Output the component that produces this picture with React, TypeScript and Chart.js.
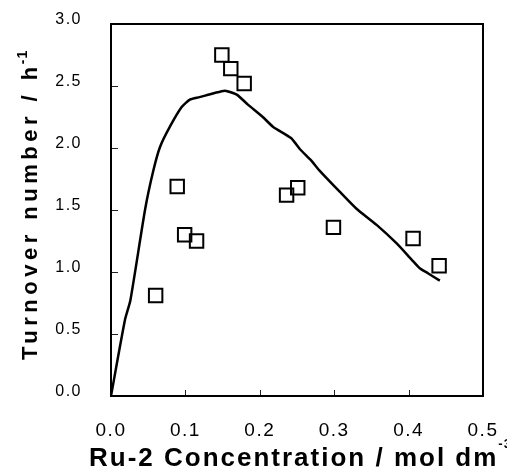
import React, { useEffect, useRef } from "react";
import { Chart, registerables } from "chart.js";

Chart.register(...registerables);

// Measured turnover numbers (squares)
const concentrations = [0.060, 0.089, 0.099, 0.115, 0.149, 0.161, 0.179, 0.236, 0.251, 0.299, 0.406, 0.441];
const turnovers = [0.81, 1.69, 1.30, 1.25, 2.75, 2.64, 2.52, 1.62, 1.68, 1.36, 1.27, 1.05];

// Calculated curve
const curveX = [0, 0.019, 0.026, 0.046, 0.057, 0.066, 0.079, 0.095, 0.106, 0.119, 0.137, 0.151, 0.155, 0.169, 0.184, 0.204, 0.218, 0.242, 0.254, 0.269, 0.280, 0.307, 0.330, 0.357, 0.384, 0.404, 0.415, 0.426, 0.442];
const curveY = [0, 0.62, 0.77, 1.51, 1.82, 2.01, 2.17, 2.33, 2.39, 2.41, 2.44, 2.46, 2.46, 2.43, 2.35, 2.25, 2.17, 2.08, 1.99, 1.90, 1.82, 1.65, 1.51, 1.38, 1.23, 1.10, 1.03, 0.99, 0.93];

const xTickValues = [0, 0.1, 0.2, 0.3, 0.4, 0.5];
const yTickValues = [0, 0.5, 1.0, 1.5, 2.0, 2.5, 3.0];

const xTitle = "Ru-2 Concentration / mol dm";
const xTitleSup = "-3";
const yTitle = "Turnover number / h";
const yTitleSup = "-1";

const FONT = '"Liberation Sans", Arial, sans-serif';

const framePlugin = {
  id: "framePlugin",
  afterDraw(chart: any) {
    const { ctx, chartArea } = chart;
    const xs = chart.scales.x;
    const ys = chart.scales.y;
    ctx.save();
    // inward ticks
    ctx.strokeStyle = "#222";
    ctx.lineWidth = 1;
    xTickValues.forEach((v) => {
      const px = Math.round(xs.getPixelForValue(v)) + 0.5;
      ctx.beginPath();
      ctx.moveTo(px, chartArea.bottom);
      ctx.lineTo(px, chartArea.bottom - 6);
      ctx.stroke();
    });
    yTickValues.forEach((v) => {
      const py = Math.round(ys.getPixelForValue(v)) + 0.5;
      ctx.beginPath();
      ctx.moveTo(chartArea.left, py);
      ctx.lineTo(chartArea.left + 7, py);
      ctx.stroke();
    });
    // frame
    ctx.strokeStyle = "#000";
    ctx.lineWidth = 2;
    ctx.strokeRect(chartArea.left, chartArea.top, chartArea.right - chartArea.left, chartArea.bottom - chartArea.top);

    // x title
    ctx.fillStyle = "#000";
    ctx.textAlign = "left";
    ctx.textBaseline = "alphabetic";
    ctx.font = `bold 26px ${FONT}`;
    (ctx as any).letterSpacing = "2px";
    ctx.fillText(xTitle, 89, 466);
    const wx = ctx.measureText(xTitle).width;
    ctx.font = `bold 13px ${FONT}`;
    (ctx as any).letterSpacing = "1px";
    ctx.fillText(xTitleSup, 89 + wx, 448);

    // y title
    ctx.save();
    ctx.translate(37, 360);
    ctx.rotate(-Math.PI / 2);
    ctx.font = `bold 22px ${FONT}`;
    (ctx as any).letterSpacing = "4.5px";
    ctx.fillText(yTitle, 0, 0);
    const wy = ctx.measureText(yTitle).width;
    ctx.font = `bold 14px ${FONT}`;
    (ctx as any).letterSpacing = "1px";
    ctx.fillText(yTitleSup, wy - 2, -10);
    ctx.restore();
    (ctx as any).letterSpacing = "0px";
    ctx.restore();
  },
};

const spacingPlugin = {
  id: "spacingPlugin",
  beforeDraw(chart: any) {
    (chart.ctx as any).letterSpacing = "1.5px";
  },
  beforeDatasetsDraw(chart: any) {
    (chart.ctx as any).letterSpacing = "0px";
  },
};

const zeroPad = (s: any) => {
  s.paddingLeft = 0;
  s.paddingRight = 0;
  s.paddingTop = 0;
  s.paddingBottom = 0;
};

export default function App() {
  const ref = useRef<HTMLCanvasElement | null>(null);
  useEffect(() => {
    if (!ref.current) return;
    const curve = curveX.map((x, i) => ({ x, y: curveY[i] }));
    const pts = concentrations.map((x, i) => ({ x, y: turnovers[i] }));
    const chart = new Chart(ref.current, {
      type: "scatter",
      data: {
        datasets: [
          {
            type: "line",
            label: "calc",
            data: curve,
            borderColor: "#000",
            borderWidth: 2.5,
            pointRadius: 0,
            tension: 0.2,
            fill: false,
          } as any,
          {
            label: "obs",
            data: pts,
            pointStyle: "rect",
            pointRadius: 9.5,
            pointBorderWidth: 2,
            borderColor: "#000",
            backgroundColor: "rgba(0,0,0,0)",
            showLine: false,
          } as any,
        ],
      },
      options: {
        responsive: false,
        animation: false,
        devicePixelRatio: 1,
        layout: { padding: { top: 24, right: 24, left: 0, bottom: 0 } },
        plugins: { legend: { display: false }, tooltip: { enabled: false } },
        scales: {
          x: {
            type: "linear",
            min: 0,
            max: 0.5,
            afterBuildTicks: (s: any) => {
              s.ticks = xTickValues.map((v) => ({ value: v }));
            },
            ticks: {
              callback: (v: any) => Number(v).toFixed(1),
              font: { family: FONT, size: 19 },
              color: "#000",
              padding: 15,
              maxRotation: 0,
            },
            grid: { display: false },
            border: { display: false },
            afterFit: (s: any) => {
              s.height = 77;
              zeroPad(s);
            },
          },
          y: {
            type: "linear",
            min: 0,
            max: 3,
            afterBuildTicks: (s: any) => {
              s.ticks = yTickValues.map((v) => ({ value: v }));
            },
            ticks: {
              callback: (v: any) => Number(v).toFixed(1),
              font: { family: FONT, size: 16 },
              color: "#000",
              padding: 21,
              labelOffset: -4,
            },
            grid: { display: false },
            border: { display: false },
            afterFit: (s: any) => {
              s.width = 111;
              zeroPad(s);
            },
          },
        },
      } as any,
      plugins: [spacingPlugin, framePlugin],
    });
    return () => chart.destroy();
  }, []);
  return (
    <div style={{ position: "absolute", left: 0, top: 0, width: 507, height: 473, background: "#fff" }}>
      <canvas ref={ref} width={507} height={473} style={{ width: 507, height: 473, display: "block" }} />
    </div>
  );
}
